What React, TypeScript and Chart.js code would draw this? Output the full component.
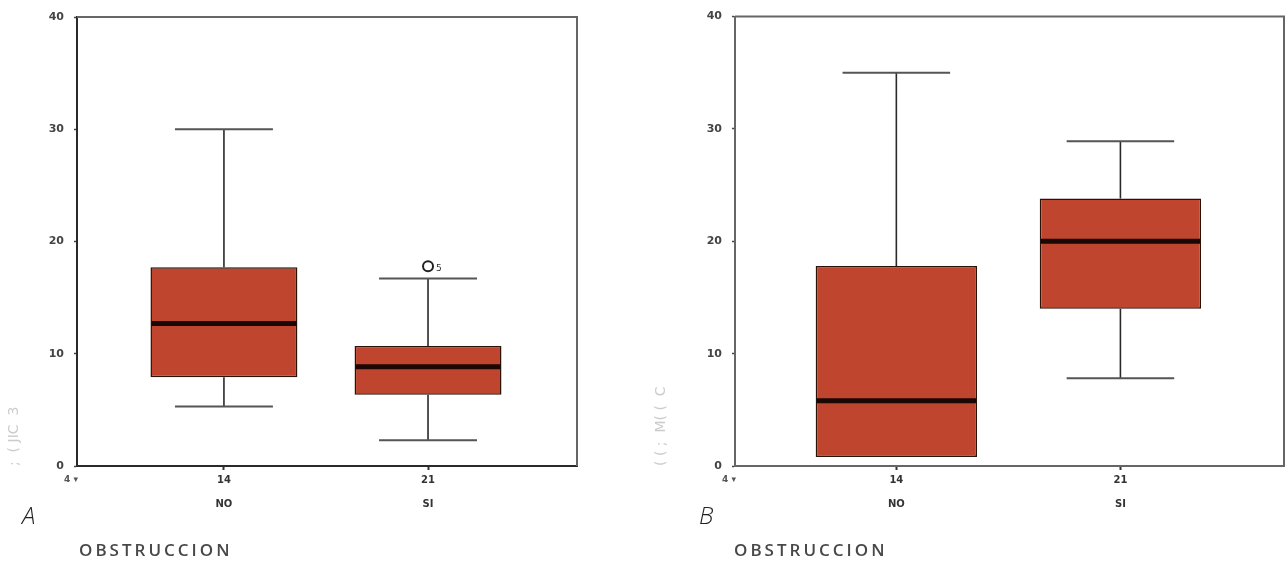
import React, { useEffect, useRef } from 'react';
import { Chart, registerables } from 'chart.js';

Chart.register(...registerables);

// ---------- data ----------
const categories = ['NO', 'SI'];
const groupCounts = ['14', '21'];
const categoryPositions = [1, 2];
const yTickValues = [0, 10, 20, 30, 40];
const xAxisTitle = 'OBSTRUCCION';

// Panel A
const aMin = [5.3, 2.3];
const aQ1 = [7.9, 6.35];
const aMedian = [12.7, 8.85];
const aQ3 = [17.7, 10.7];
const aMax = [30, 16.7];
const aOutlierX = [2];
const aOutlierY = [17.8];
const aOutlierLabels = ['5'];
const aYTitle = ';  ( JIC  3';

// Panel B
const bMin = [0.8, 7.8];
const bQ1 = [0.8, 14.0];
const bMedian = [5.8, 20.0];
const bQ3 = [17.8, 23.8];
const bMax = [35, 28.9];
const bOutlierX: number[] = [];
const bOutlierY: number[] = [];
const bOutlierLabels: string[] = [];
const bYTitle = '( ( ;  M( (  C';

type PanelProps = {
  left: number;
  width: number;
  yAxisWidth: number;
  padTop: number;
  padRight: number;
  xAxisHeight: number;
  yTitleOffset: number;
  min: number[];
  q1: number[];
  median: number[];
  q3: number[];
  max: number[];
  outX: number[];
  outY: number[];
  outLabels: string[];
  yTitle: string;
  axisColor: string;
  frameColor: string;
};

const boxPlugin = {
  id: 'boxExtras',
  beforeDatasetsDraw(chart: any, _args: any, opts: any) {
    const { ctx, chartArea, scales } = chart;
    const x = scales.x;
    const y = scales.y;
    ctx.save();
    ctx.strokeStyle = opts.frameColor;
    ctx.lineWidth = 2;
    ctx.beginPath();
    ctx.moveTo(chartArea.left, chartArea.top);
    ctx.lineTo(chartArea.right, chartArea.top);
    ctx.lineTo(chartArea.right, chartArea.bottom);
    ctx.stroke();
    opts.pos.forEach((p: number, i: number) => {
      const px = x.getPixelForValue(p);
      ctx.strokeStyle = '#2a2a2a';
      ctx.lineWidth = 1.6;
      ctx.beginPath();
      ctx.moveTo(px, y.getPixelForValue(opts.max[i]));
      ctx.lineTo(px, y.getPixelForValue(opts.q3[i]));
      ctx.moveTo(px, y.getPixelForValue(opts.q1[i]));
      ctx.lineTo(px, y.getPixelForValue(opts.min[i]));
      ctx.stroke();
      ctx.strokeStyle = '#555';
      ctx.lineWidth = 2;
      const l = x.getPixelForValue(p - opts.capHalf);
      const r = x.getPixelForValue(p + opts.capHalf);
      ctx.beginPath();
      ctx.moveTo(l, y.getPixelForValue(opts.max[i]));
      ctx.lineTo(r, y.getPixelForValue(opts.max[i]));
      if (opts.min[i] < opts.q1[i]) {
        ctx.moveTo(l, y.getPixelForValue(opts.min[i]));
        ctx.lineTo(r, y.getPixelForValue(opts.min[i]));
      }
      ctx.stroke();
    });
    ctx.restore();
  },
  afterDatasetsDraw(chart: any, _args: any, opts: any) {
    const { ctx, scales } = chart;
    const y = scales.y;
    const meta = chart.getDatasetMeta(0);
    ctx.save();
    meta.data.forEach((el: any, i: number) => {
      const py = y.getPixelForValue(opts.median[i]);
      ctx.strokeStyle = '#1a0805';
      ctx.lineWidth = 5;
      ctx.beginPath();
      ctx.moveTo(el.x - el.width / 2 + 1, py);
      ctx.lineTo(el.x + el.width / 2 - 1, py);
      ctx.stroke();
    });
    const meta2 = chart.getDatasetMeta(1);
    ctx.fillStyle = '#333';
    ctx.font = '9px "DejaVu Sans"';
    ctx.textBaseline = 'middle';
    meta2.data.forEach((el: any, i: number) => {
      ctx.fillText(opts.outLabels[i] || '', el.x + 8, el.y + 2);
    });
    ctx.restore();
  },
};

function Panel(props: PanelProps) {
  const ref = useRef<HTMLCanvasElement | null>(null);
  useEffect(() => {
    if (!ref.current) return;
    const chart = new Chart(ref.current, {
      type: 'bar',
      data: {
        datasets: [
          {
            type: 'bar',
            data: categoryPositions.map((p, i) => ({ x: p, y: [props.q1[i], props.q3[i]] })) as any,
            backgroundColor: '#c0452f',
            borderColor: '#2a1208',
            borderWidth: 1.5,
            borderSkipped: false,
            barPercentage: 0.72,
            categoryPercentage: 1,
          } as any,
          {
            type: 'scatter',
            data: props.outX.map((p, i) => ({ x: p, y: props.outY[i] })),
            pointStyle: 'circle',
            pointRadius: 5,
            backgroundColor: 'rgba(255,255,255,0)',
            borderColor: '#222',
            borderWidth: 2,
          } as any,
        ],
      },
      options: {
        responsive: false,
        animation: false,
        devicePixelRatio: 1,
        layout: { padding: { left: 0, top: props.padTop, right: props.padRight, bottom: 0 } },
        plugins: {
          legend: { display: false },
          tooltip: { enabled: false },
          boxExtras: {
            pos: categoryPositions,
            min: props.min,
            q1: props.q1,
            median: props.median,
            q3: props.q3,
            max: props.max,
            capHalf: 0.24,
            outLabels: props.outLabels,
            frameColor: props.frameColor,
          },
        } as any,
        scales: {
          x: {
            type: 'linear',
            min: 0.28,
            max: 2.73,
            offset: false,
            afterBuildTicks: (s: any) => {
              s.ticks = categoryPositions.map((v) => ({ value: v }));
            },
            afterFit: (s: any) => {
              s.height = props.xAxisHeight;
            },
            ticks: {
              autoSkip: false,
              maxRotation: 0,
              color: '#333',
              padding: -2,
              font: { family: 'DejaVu Sans', size: 10, weight: 'bold', lineHeight: 2.45 },
              callback: (_v: any, i: number) => [groupCounts[i], categories[i]],
            },
            grid: { drawOnChartArea: false, offset: false, tickLength: 4, color: '#333', tickWidth: 2 },
            border: { display: true, color: props.axisColor, width: 2 },
            title: { display: false },
          } as any,
          y: {
            type: 'linear',
            min: 0,
            max: 40,
            afterBuildTicks: (s: any) => {
              s.ticks = yTickValues.map((v) => ({ value: v }));
            },
            afterFit: (s: any) => {
              s.width = props.yAxisWidth;
            },
            ticks: {
              color: '#444',
              padding: 10,
              font: { family: 'DejaVu Sans', size: 11, weight: 'bold' },
            },
            grid: { drawOnChartArea: false, tickLength: 3, color: '#444', tickWidth: 1.5 },
            border: { display: true, color: props.axisColor, width: 2 },
            title: {
              display: true,
              text: props.yTitle,
              align: 'start',
              color: '#cccccc',
              font: { family: 'DejaVu Sans', size: 14 },
              padding: { top: props.yTitleOffset, bottom: 0 },
            },
          } as any,
        },
      },
      plugins: [boxPlugin as any],
    });
    return () => chart.destroy();
  }, []);
  return (
    <canvas
      ref={ref}
      width={props.width}
      height={562}
      style={{ position: 'absolute', left: props.left, top: 0, width: props.width, height: 562 }}
    />
  );
}

const letterStyle: React.CSSProperties = {
  position: 'absolute',
  fontFamily: '"Open Sans", "DejaVu Sans", sans-serif',
  fontStyle: 'italic',
  fontWeight: 300,
  fontSize: 24,
  color: '#222',
  lineHeight: '24px',
};

const smallStyle: React.CSSProperties = {
  position: 'absolute',
  fontFamily: '"DejaVu Sans", sans-serif',
  fontSize: 9,
  fontWeight: 'bold',
  color: '#555',
  lineHeight: '10px',
};

const titleStyle: React.CSSProperties = {
  position: 'absolute',
  fontFamily: '"Open Sans", "DejaVu Sans", sans-serif',
  fontSize: 17,
  fontWeight: 600,
  letterSpacing: 3,
  color: '#484848',
  lineHeight: '20px',
  whiteSpace: 'nowrap',
};

export default function App() {
  return (
    <div style={{ position: 'fixed', left: 0, top: 0, width: 1287, height: 562, background: '#fff', overflow: 'hidden' }}>
      <Panel
        left={0}
        width={640}
        yAxisWidth={77}
        padTop={17}
        padRight={63}
        xAxisHeight={96}
        yTitleOffset={6}
        min={aMin}
        q1={aQ1}
        median={aMedian}
        q3={aQ3}
        max={aMax}
        outX={aOutlierX}
        outY={aOutlierY}
        outLabels={aOutlierLabels}
        yTitle={aYTitle}
        axisColor="#2a2a2a"
        frameColor="#666"
      />
      <Panel
        left={640}
        width={647}
        yAxisWidth={95}
        padTop={10}
        padRight={3}
        xAxisHeight={96}
        yTitleOffset={13}
        min={bMin}
        q1={bQ1}
        median={bMedian}
        q3={bQ3}
        max={bMax}
        outX={bOutlierX}
        outY={bOutlierY}
        outLabels={bOutlierLabels}
        yTitle={bYTitle}
        axisColor="#666"
        frameColor="#666"
      />
      <div style={{ ...letterStyle, left: 22, top: 503 }}>A</div>
      <div style={{ ...letterStyle, left: 699, top: 503 }}>B</div>
      <div style={{ ...smallStyle, left: 64, top: 474 }}>4 ▾</div>
      <div style={{ ...smallStyle, left: 722, top: 474 }}>4 ▾</div>
      <div style={{ ...titleStyle, left: 79, top: 540 }}>{xAxisTitle}</div>
      <div style={{ ...titleStyle, left: 734, top: 540 }}>{xAxisTitle}</div>
    </div>
  );
}
